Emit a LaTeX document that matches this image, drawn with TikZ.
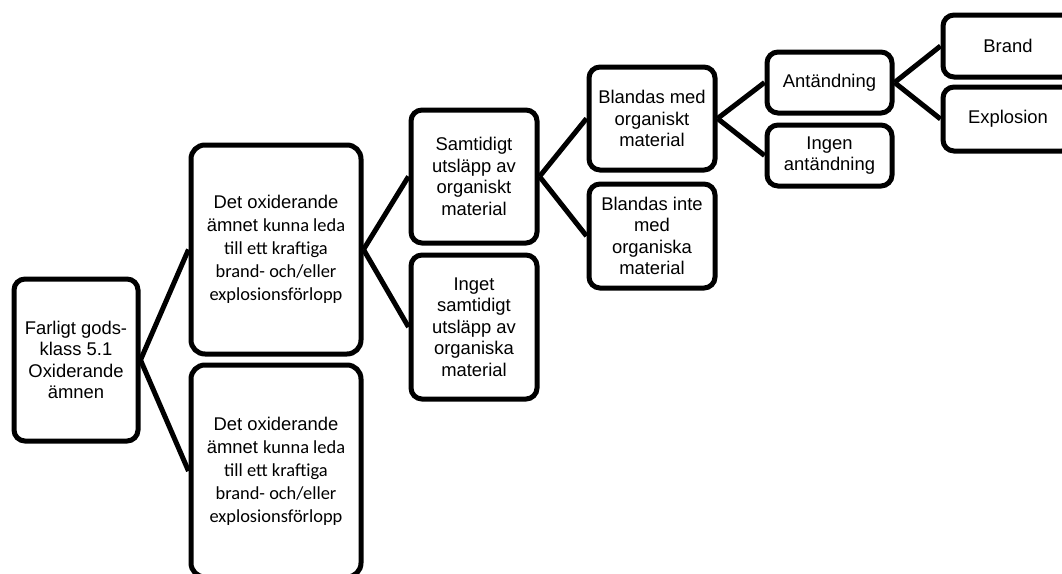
\documentclass[tikz,border=0pt]{standalone}
\usepackage{fontspec}
\setmainfont{Liberation Sans}
\newfontfamily\calibrifont{Carlito}
\begin{document}
\begin{tikzpicture}[x=1pt,y=-1pt,
  box/.style={draw=black, line width=5pt, rounded corners=11pt, fill=white,
    inner sep=0pt, align=center, text=black,
    font=\fontsize{18.4}{21.6}\selectfont},
  bigbox/.style={box, rounded corners=14pt, font=\fontsize{18.4}{23}\selectfont},
  link/.style={draw=black, line width=5pt}]
\useasboundingbox (0,0) rectangle (1062,573);
\clip (0,0) rectangle (1062,573);
\node[box, minimum width=124pt, minimum height=162pt] (root) at (76,360)
  {Farligt gods-\\klass 5.1\\Oxiderande\\ämnen};
\node[bigbox, minimum width=170pt, minimum height=209pt] (b2a) at (276,249.5)
  {Det oxiderande\\ämnet {\calibrifont kunna leda}\\{\calibrifont till ett kraftiga}\\{\calibrifont brand- och/eller}\\{\calibrifont explosionsförlopp}};
\node[bigbox, minimum width=170pt, minimum height=212pt] (b2b) at (276,471)
  {Det oxiderande\\ämnet {\calibrifont kunna leda}\\{\calibrifont till ett kraftiga}\\{\calibrifont brand- och/eller}\\{\calibrifont explosionsförlopp}};
\node[box, minimum width=126pt, minimum height=133pt] (b3a) at (474,176.5)
  {Samtidigt\\utsläpp av\\organiskt\\material};
\node[box, minimum width=126pt, minimum height=144pt] (b3b) at (474,327)
  {Inget\\samtidigt\\utsläpp av\\organiska\\material};
\node[box, minimum width=126pt, minimum height=103pt] (b4a) at (652,118.5)
  {Blandas med\\organiskt\\material};
\node[box, minimum width=126pt, minimum height=104pt] (b4b) at (652,236)
  {Blandas inte\\med\\organiska\\material};
\node[box, minimum width=125pt, minimum height=61pt] (b5a) at (829.5,82.5)
  {Antändning};
\node[box, minimum width=125pt, minimum height=61pt] (b5b) at (829.5,155.5)
  {Ingen\\antändning};
\node[box, minimum width=130pt, minimum height=62pt] (b6a) at (1008,46)
  {Brand};
\node[box, minimum width=130pt, minimum height=64pt] (b6b) at (1008,119)
  {Explosion};
\draw[link] (root.east) -- (b2a.west);
\draw[link] (root.east) -- (b2b.west);
\draw[link] (b2a.east) -- (b3a.west);
\draw[link] (b2a.east) -- (b3b.west);
\draw[link] (b3a.east) -- (b4a.west);
\draw[link] (b3a.east) -- (b4b.west);
\draw[link] (b4a.east) -- (b5a.west);
\draw[link] (b4a.east) -- (b5b.west);
\draw[link] (b5a.east) -- (b6a.west);
\draw[link] (b5a.east) -- (b6b.west);
\end{tikzpicture}
\end{document}
